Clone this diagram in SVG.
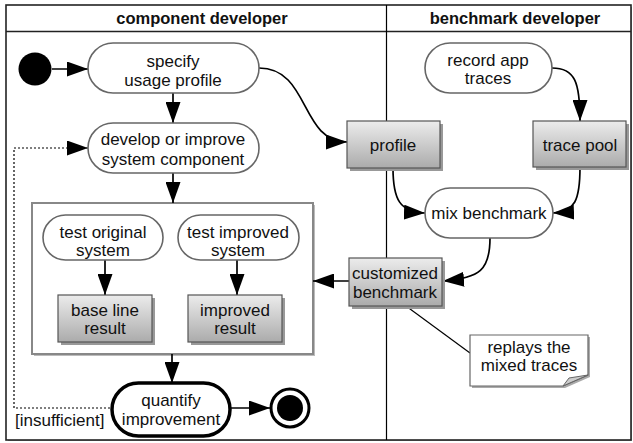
<svg xmlns="http://www.w3.org/2000/svg" width="633" height="443" viewBox="0 0 633 443">
<defs>
<linearGradient id="g" x1="0" y1="0" x2="0" y2="1">
<stop offset="0" stop-color="#ececec"/>
<stop offset="1" stop-color="#ababab"/>
</linearGradient>
<marker id="ah" markerUnits="userSpaceOnUse" markerWidth="21" markerHeight="15" viewBox="0 0 21 15" refX="21" refY="7.5" orient="auto">
<path d="M0,0 L21,7.5 L0,15 z" fill="#000"/>
</marker>
</defs>
<style>
text{font-family:"Liberation Sans",Arial,sans-serif;font-size:17px;fill:#111;text-anchor:middle;dominant-baseline:central}
.hdr{font-weight:bold;font-size:16.5px}
.act{fill:#fff;stroke:#666;stroke-width:1.6}
.obj{fill:url(#g);stroke:#555;stroke-width:1.2}
.sh{fill:#999}
.c{fill:none;stroke:#000;stroke-width:1.7}
.ca{fill:none;stroke:#000;stroke-width:1.7;marker-end:url(#ah)}
</style>
<rect x="0" y="0" width="633" height="443" fill="#fff"/>
<g id="frame">
<rect x="8" y="7" width="624" height="434" fill="#aaa"/>
<rect x="6" y="5" width="625" height="435" fill="#fff" stroke="#222" stroke-width="1.6"/>
<line x1="6" y1="31.5" x2="631" y2="31.5" stroke="#222" stroke-width="1.6"/>
<line x1="386.5" y1="5" x2="386.5" y2="440" stroke="#000" stroke-width="1.2"/>
<text class="hdr" x="202" y="18">component developer</text>
<text class="hdr" x="515" y="18">benchmark developer</text>
</g>
<g id="container">
<rect x="34" y="205" width="281" height="151" fill="#bbb"/>
<rect x="32" y="203" width="281" height="151" fill="#fff" stroke="#888" stroke-width="2"/>
</g>
<g id="connectors">
<line class="ca" x1="52" y1="69" x2="88" y2="69"/>
<line class="ca" x1="173" y1="93" x2="173" y2="123"/>
<line class="ca" x1="173" y1="173" x2="173" y2="203"/>
<polyline class="ca" points="110,408 14,408 14,148 88,148" stroke-dasharray="2,2" style="stroke-width:1.2"/>
<line class="ca" x1="105" y1="260" x2="105" y2="295"/>
<line class="ca" x1="237" y1="260" x2="237" y2="295"/>
<line class="ca" x1="172" y1="354" x2="172" y2="383"/>
<line class="ca" x1="230" y1="408" x2="270" y2="408"/>
<path class="ca" d="M259,68 C310,68 300,142 347,142"/>
<path class="ca" d="M552,68 C575,68 580,82 580,121"/>
<path class="ca" d="M393,168 C393,200 400,212 425,213"/>
<path class="ca" d="M580,167 C580,200 575,212 553,213"/>
<path class="ca" d="M490,238 C490,270 480,278 443,281"/>
<line class="ca" x1="349" y1="281" x2="313" y2="281"/>
<line class="c" x1="406" y1="306" x2="470" y2="353" style="stroke-width:1.2"/>
</g>
<g id="start">
<circle cx="35" cy="69" r="16.5" fill="#000"/>
</g>
<g id="specify">
<rect class="act" x="88" y="43" width="171" height="50" rx="25"/>
<text x="173" y="61">specify</text>
<text x="173" y="80">usage profile</text>
</g>
<g id="develop">
<rect class="act" x="88" y="123" width="171" height="50" rx="25"/>
<text x="173" y="139">develop or improve</text>
<text x="173" y="159">system component</text>
</g>
<g id="testorig">
<rect class="act" x="43" y="215" width="120" height="45" rx="22.5"/>
<text x="103" y="232">test original</text>
<text x="103" y="250">system</text>
</g>
<g id="testimp">
<rect class="act" x="178" y="215" width="121" height="45" rx="22.5"/>
<text x="238" y="232">test improved</text>
<text x="238" y="250">system</text>
</g>
<g id="baseline">
<rect class="sh" x="61" y="298" width="94" height="47"/>
<rect class="obj" x="58" y="295" width="94" height="47"/>
<text x="105" y="310">base line</text>
<text x="105" y="328">result</text>
</g>
<g id="improved">
<rect class="sh" x="191" y="298" width="94" height="47"/>
<rect class="obj" x="188" y="295" width="94" height="47"/>
<text x="235" y="310">improved</text>
<text x="235" y="328">result</text>
</g>
<g id="quantify">
<rect x="112" y="383" width="118" height="53" rx="26.5" fill="#fff" stroke="#000" stroke-width="3.5"/>
<text x="171" y="400">quantify</text>
<text x="171" y="419">improvement</text>
</g>
<g id="end">
<circle cx="290" cy="408" r="19" fill="#fff" stroke="#000" stroke-width="3"/>
<circle cx="290" cy="408" r="13" fill="#000"/>
</g>
<g id="insufficient">
<text x="15" y="420" style="text-anchor:start">[insufficient]</text>
</g>
<g id="profile">
<rect class="sh" x="350" y="124" width="93" height="47"/>
<rect class="obj" x="347" y="121" width="93" height="47"/>
<text x="393" y="145">profile</text>
</g>
<g id="record">
<rect class="act" x="425" y="43" width="127" height="50" rx="25"/>
<text x="488" y="60">record app</text>
<text x="488" y="78">traces</text>
</g>
<g id="tracepool">
<rect class="sh" x="536" y="124" width="93" height="46"/>
<rect class="obj" x="533" y="121" width="93" height="46"/>
<text x="580" y="145">trace pool</text>
</g>
<g id="mix">
<rect class="act" x="425" y="188" width="128" height="50" rx="25"/>
<text x="489" y="213">mix benchmark</text>
</g>
<g id="customized">
<rect class="sh" x="352" y="261" width="93" height="48"/>
<rect class="obj" x="349" y="258" width="93" height="48"/>
<text x="395" y="273">customized</text>
<text x="395" y="292">benchmark</text>
</g>
<g id="note">
<path d="M472,337 L590,337 L590,377 L565,388 L472,388 z" fill="#aaa"/>
<path d="M470,335 L588,335 L588,375 L563,386 L470,386 z" fill="#fff" stroke="#666" stroke-width="1.2"/>
<path d="M563,386 L588,375 L569,378 z" fill="#ccc" stroke="#666" stroke-width="1"/>
<text x="529" y="347">replays the</text>
<text x="529" y="365">mixed traces</text>
</g>
</svg>
